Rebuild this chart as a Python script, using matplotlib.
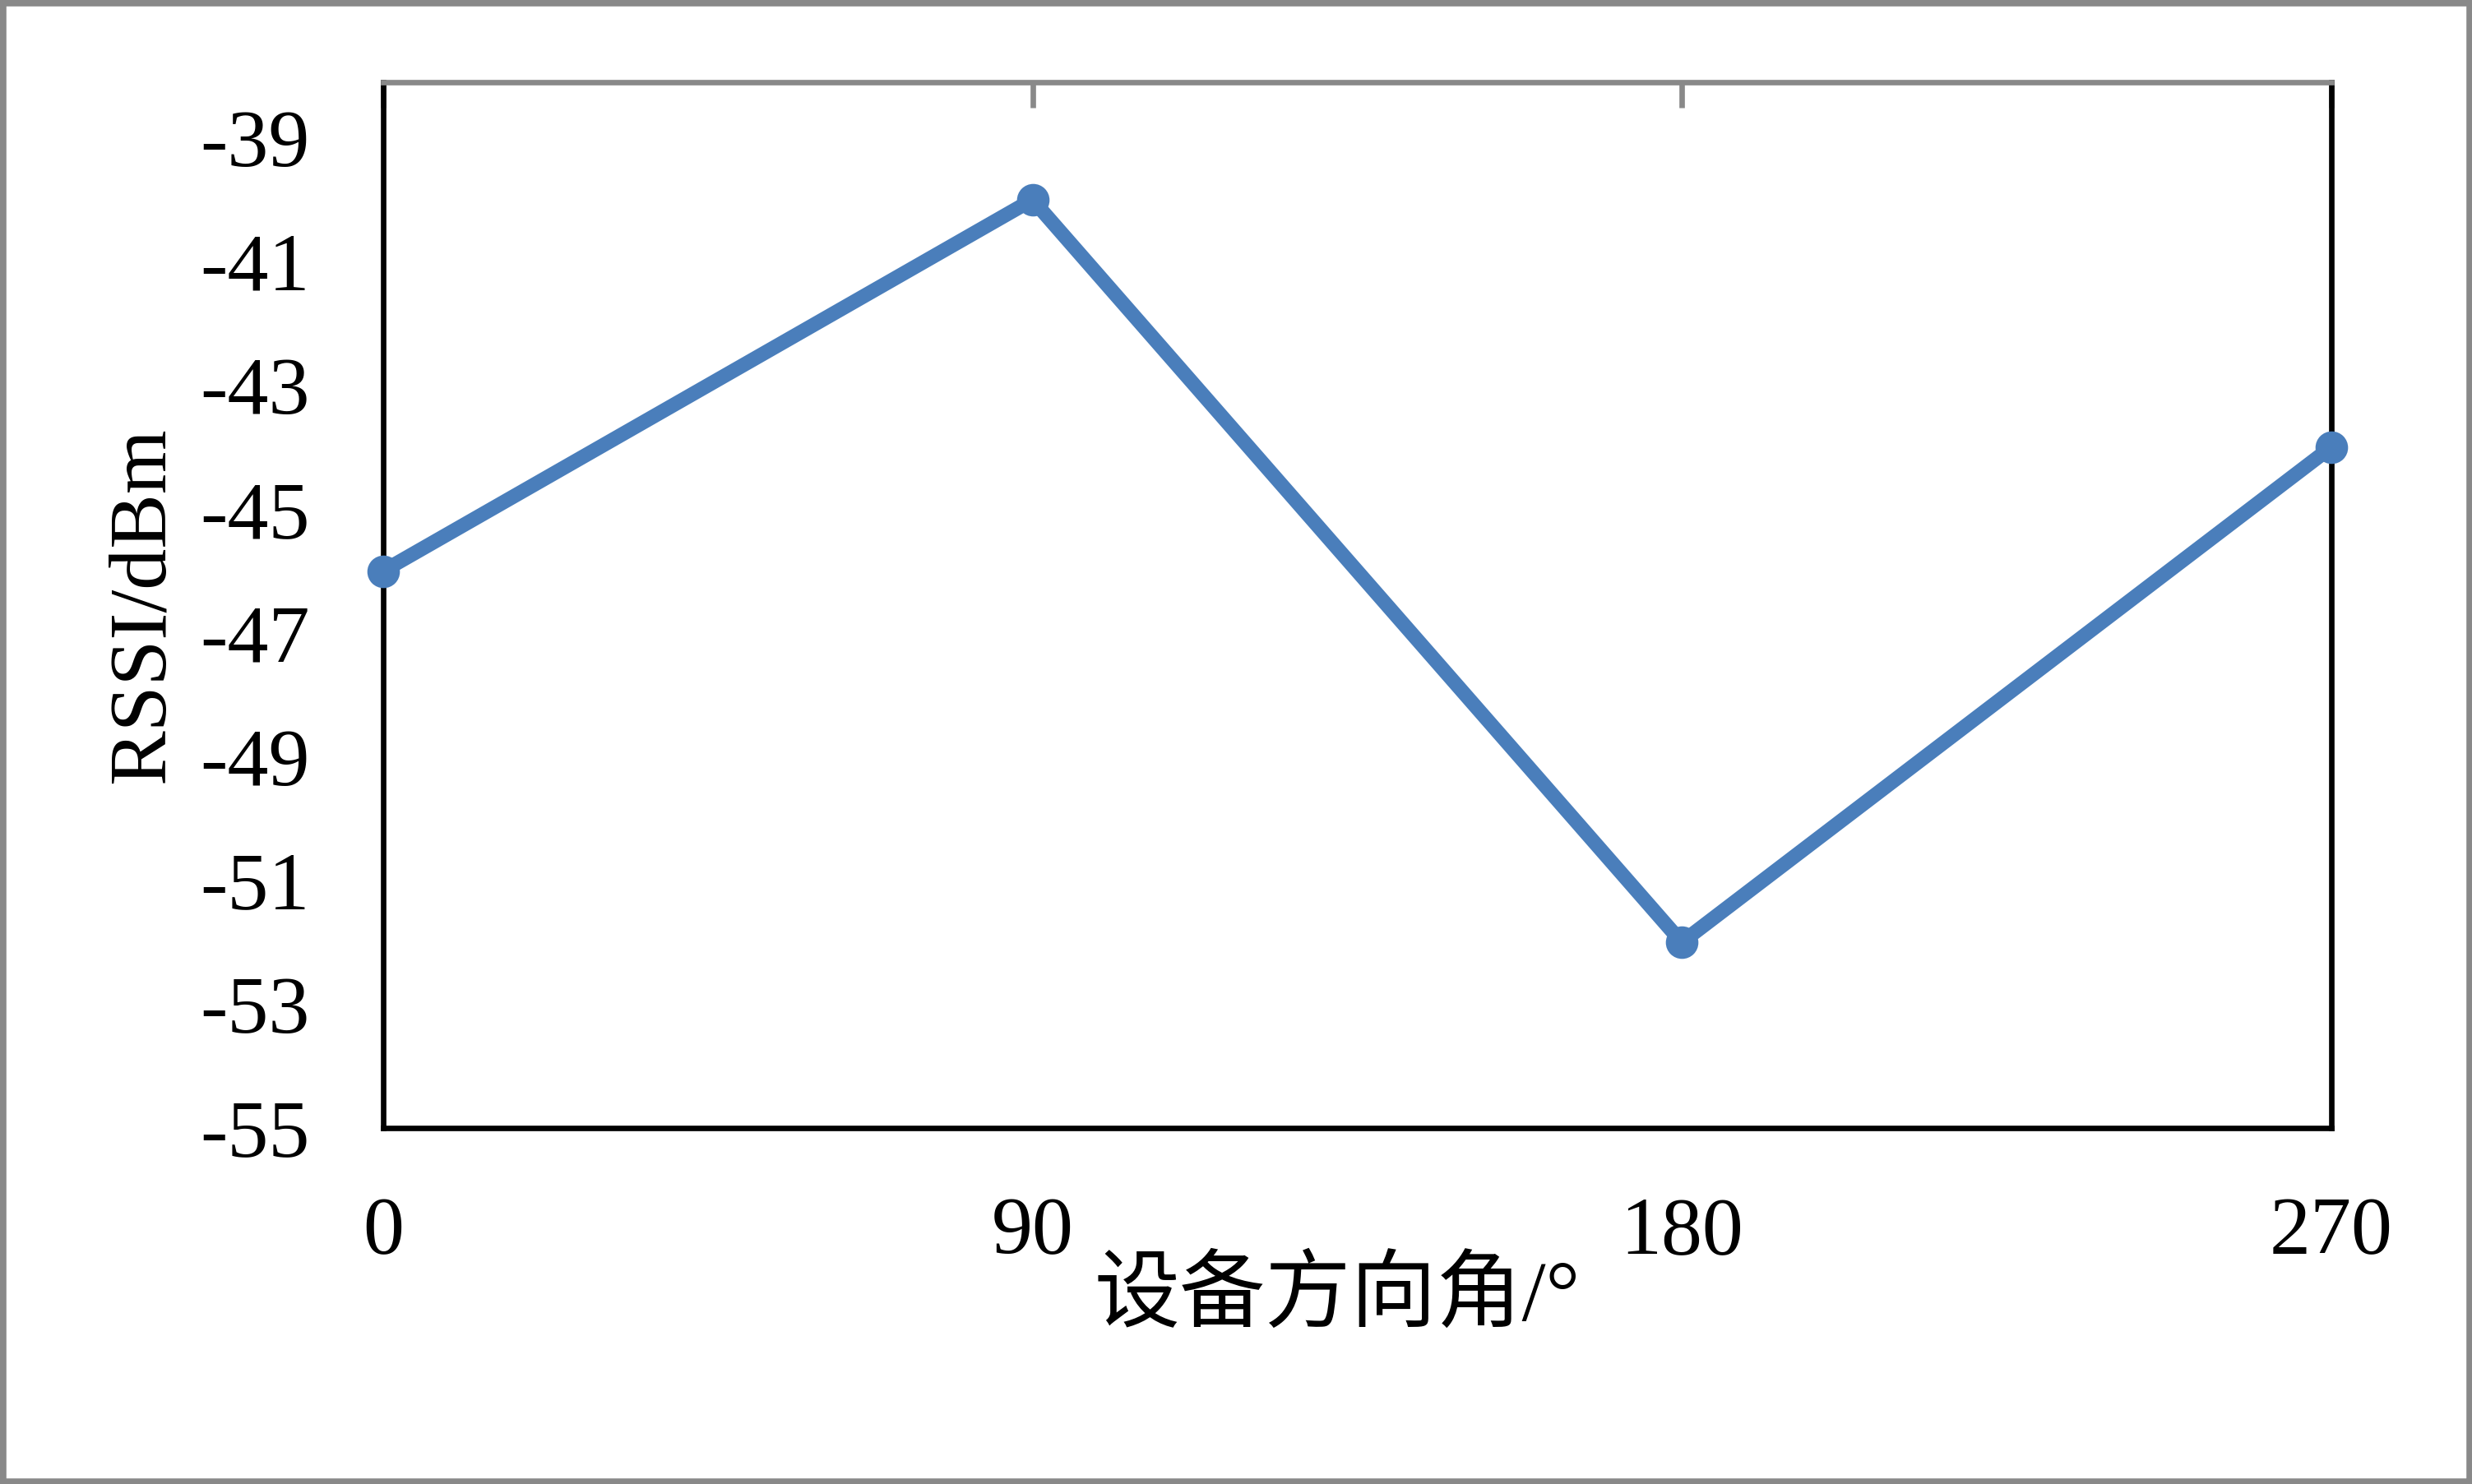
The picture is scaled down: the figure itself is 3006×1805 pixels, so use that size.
import matplotlib
matplotlib.use("Agg")
import matplotlib.pyplot as plt
from matplotlib.patches import Rectangle

plt.rcParams['font.family'] = ['Liberation Serif', 'Noto Sans CJK SC']
plt.rcParams['axes.unicode_minus'] = False

# data
angles = [0, 90, 180, 270]
rssi = [-46, -40, -52, -44]
yticks = list(range(-55, -38, 2))
xlabel = "设备方向角/°"
ylabel = "RSSI/dBm"

fig = plt.figure(figsize=(10.02, 6.017), dpi=300)
ax = fig.add_axes([0.155, 0.2399, 0.788, 0.7047])

ax.plot(angles, rssi, color='#4A7EBB', lw=4.2, marker='o', ms=8.5,
        markerfacecolor='#4A7EBB', markeredgecolor='#4A7EBB', clip_on=False, zorder=5)

ax.set_xlim(0, 270)
ax.set_ylim(-55, -38.1)
ax.set_xticks(angles)
ax.set_yticks(yticks)

for s in ['left', 'right', 'bottom']:
    ax.spines[s].set_color('black')
    ax.spines[s].set_linewidth(1.6)
ax.spines['top'].set_color('#898989')
ax.spines['top'].set_linewidth(1.6)
ax.spines['top'].set_zorder(6)

# x ticks drawn on top spine pointing inward, labels at the bottom
ax.tick_params(axis='x', bottom=False, top=True, labelbottom=True, direction='in',
               length=7.5, width=1.6, color='#898989', labelcolor='black',
               labelsize=24, pad=20)
ax.tick_params(axis='y', left=False, labelsize=24, pad=18)

ax.set_xlabel(xlabel, fontsize=25)
ax.xaxis.label.set_va('center')
ax.xaxis.set_label_coords(0.49, -0.163)
ax.set_ylabel(ylabel, fontsize=24)
ax.yaxis.label.set_va('center')
ax.yaxis.set_label_coords(-0.123, 0.5)

# outer chart border
fig.patches.append(Rectangle((0, 0), 1, 1, transform=fig.transFigure, fill=False,
                             edgecolor='#898989', lw=3.5))

fig.savefig("out.png", dpi=300)
